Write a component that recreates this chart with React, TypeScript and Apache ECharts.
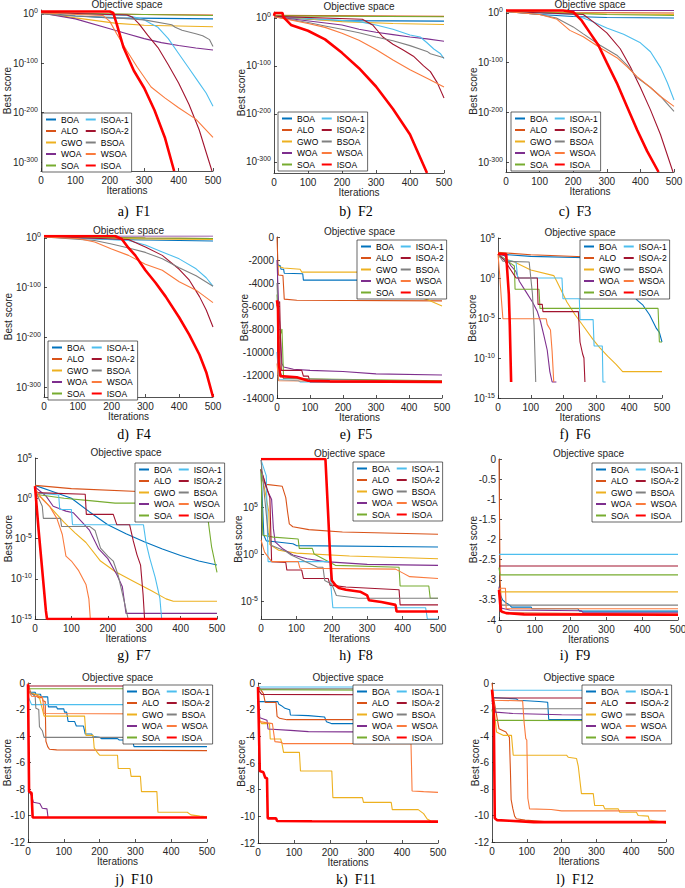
import React, { useEffect, useRef } from "react";
import * as echarts from "echarts";

const seriesNames = ["BOA", "ALO", "GWO", "WOA", "SOA", "ISOA-1", "ISOA-2", "BSOA", "WSOA", "ISOA"];
const seriesColors = ["#0072BD", "#D95319", "#EDB120", "#7E2F8E", "#77AC30", "#4DBEEE", "#A2142F", "#808080", "#FA7B3E", "#FF0000"];
const seriesWidths = [1.1, 1.1, 1.1, 1.1, 1.1, 1.1, 1.1, 1.1, 1.1, 2.6];

const xTicks = [0, 100, 200, 300, 400, 500];
const ticksLog300 = [0, -100, -200, -300];
const ticksF5 = [0, -2000, -4000, -6000, -8000, -10000, -12000, -14000];
const ticksLog15 = [5, 0, -5, -10, -15];
const ticksF8 = [5, 0, -5];
const ticksF9 = [0, -0.5, -1, -1.5, -2, -2.5, -3, -3.5, -4];
const ticks12 = [0, -2, -4, -6, -8, -10, -12];

// Log-scale panels store log10(best score); order follows seriesNames
const F1 = [
  [[0, 3], [100, -4], [200, -8], [500, -10]],
  [[0, 3], [150, 0], [300, -1], [500, -2]],
  [[0, 2], [100, -8], [220, -19], [300, -23], [500, -26]],
  [[0, 2], [100, -10], [200, -30], [250, -40], [300, -50], [350, -58], [400, -64], [450, -69], [500, -73]],
  [[0, 3], [300, -1], [500, -3]],
  [[0, 2], [250, -3], [280, -8], [300, -12], [320, -20], [340, -27], [370, -50], [400, -80], [430, -110], [460, -140], [480, -160], [500, -187]],
  [[0, 3], [250, -2], [265, -6], [285, -20], [310, -43], [340, -68], [370, -103], [400, -140], [430, -183], [460, -235], [480, -280], [497, -318]],
  [[0, 0], [100, -4], [200, -7], [300, -12], [380, -22], [390, -27], [410, -33], [450, -40], [470, -44], [490, -52], [500, -66]],
  [[0, 2], [180, -3], [200, -15], [220, -40], [250, -75], [280, -108], [320, -148], [360, -170], [400, -190], [450, -213], [500, -250]],
  [[0, 5], [200, 5], [210, 2], [220, -20], [240, -68], [270, -115], [300, -150], [330, -195], [360, -250], [387, -318]],
];
const F2 = [
  [[0, 2], [100, -3], [200, -6], [500, -7]],
  [[0, 5], [500, 3]],
  [[0, 3], [200, -8], [350, -12], [500, -14]],
  [[0, 2], [200, -15], [250, -24], [300, -30], [350, -35], [400, -40], [450, -44], [500, -49]],
  [[0, 4], [500, 2]],
  [[0, 3], [250, -8], [300, -15], [350, -24], [400, -36], [430, -40], [450, -52], [470, -65], [490, -75], [500, -85]],
  [[0, 3], [260, -3], [290, -15], [320, -40], [350, -55], [380, -67], [410, -80], [440, -100], [460, -112], [480, -135], [500, -167]],
  [[0, 2], [100, -10], [150, -17], [200, -24], [250, -31], [300, -40], [350, -48], [400, -58], [450, -70], [460, -75], [500, -83]],
  [[0, 2], [100, -12], [150, -20], [200, -32], [250, -47], [300, -66], [350, -88], [400, -108], [450, -126], [500, -144]],
  [[0, 4], [2, 10], [25, 10], [27, 2], [50, -15], [100, -27], [150, -45], [200, -73], [250, -105], [300, -143], [350, -190], [400, -243], [450, -323]],
];
const F3 = [
  [[0, 3], [100, -3], [200, -7], [300, -9], [500, -10]],
  [[0, 3], [200, 1], [500, 0]],
  [[0, 3], [300, -2], [500, -3]],
  [[0, 5], [500, 5]],
  [[0, 3], [300, -3], [500, -5]],
  [[0, 3], [200, -3], [250, -15], [300, -30], [350, -43], [400, -60], [430, -78], [460, -110], [480, -140], [500, -175]],
  [[0, 3], [230, -3], [260, -18], [300, -40], [340, -72], [370, -108], [400, -150], [430, -195], [460, -245], [497, -320]],
  [[0, 3], [100, -3], [150, -10], [200, -28], [230, -42], [280, -65], [330, -85], [360, -105], [390, -130], [430, -150], [460, -168], [500, -198]],
  [[0, 3], [100, -3], [150, -12], [190, -35], [230, -48], [280, -70], [330, -90], [360, -108], [390, -128], [430, -150], [460, -168], [500, -188]],
  [[0, 5], [170, 5], [200, 2], [225, -15], [250, -40], [275, -65], [300, -100], [330, -141], [360, -188], [390, -235], [420, -278], [454, -320]],
];
const F4 = [
  [[0, 2], [200, -3], [500, -6]],
  [[0, 3], [100, 2], [300, 0], [500, -1]],
  [[0, 3], [300, -2], [500, -3]],
  [[0, 4], [500, 4]],
  [[0, 3], [300, 0], [500, -1]],
  [[0, 3], [250, -5], [300, -14], [350, -28], [400, -42], [450, -62], [480, -80], [500, -97]],
  [[0, 3], [250, -3], [300, -18], [350, -35], [400, -63], [430, -85], [460, -118], [480, -145], [500, -179]],
  [[0, 2], [150, -5], [200, -12], [250, -20], [300, -29], [350, -42], [400, -60], [450, -76], [500, -97]],
  [[0, 2], [100, -1], [150, -8], [200, -22], [250, -35], [300, -53], [350, -65], [400, -88], [450, -105], [500, -130]],
  [[0, 4], [210, 4], [230, -2], [250, -20], [270, -35], [300, -65], [330, -90], [360, -118], [400, -160], [430, -195], [460, -235], [480, -270], [500, -320]],
];
const F5 = [
  [[0, -2400], [10, -2500], [12, -2800], [20, -2800], [22, -3150], [78, -3200], [80, -3750], [500, -3750]],
  [[0, 0], [4, -3300], [18, -3350], [22, -5400], [60, -5500], [500, -5550]],
  [[0, -2500], [10, -2600], [20, -2700], [70, -2800], [75, -3050], [350, -3050], [365, -4000], [380, -4700], [420, -5100], [460, -5500], [500, -6000]],
  [[0, -2000], [5, -6000], [15, -11000], [20, -11300], [50, -11500], [100, -11600], [200, -11700], [300, -11900], [500, -12000]],
  [[0, -5000], [5, -9000], [15, -8000], [20, -12300], [500, -12500]],
  [[0, -10000], [5, -12400], [65, -12500], [70, -12600], [500, -12600]],
  [[0, -6000], [8, -5600], [13, -11600], [75, -11600], [80, -12100], [95, -12100], [100, -12600], [500, -12600]],
  [[0, -4000], [10, -11800], [20, -12300], [500, -12600]],
  [[0, -11000], [5, -12500], [500, -12600]],
  [[0, -5500], [3, -6200], [5, -10900], [10, -12100], [60, -12200], [95, -12500], [160, -12550], [500, -12600]],
];
const F6 = [
  [[0, 3], [100, 2.7], [300, 2.5], [380, 2.3], [395, 0], [411, -2.1], [425, -2.8], [442, -3.4], [462, -4.6], [483, -6.3], [492, -6.8], [500, -8]],
  [[0, 3.2], [100, 2.9], [300, 2.6], [500, 2.3]],
  [[0, 2.7], [50, 2], [100, 1], [170, 0.3], [178, -0.3], [190, -1.3], [210, -3], [235, -4.6], [260, -6], [290, -7.7], [310, -8.7], [335, -9.8], [360, -10.8], [380, -11.7], [500, -11.7]],
  [[0, 3], [20, 2.8], [40, 1.5], [55, 0.8], [65, -0.4], [85, -1.7], [105, -3], [120, -4.2], [130, -5.5], [140, -7.2], [150, -9], [158, -11.7], [165, -13], [178, -13]],
  [[0, 3], [40, 1.8], [50, 1.5], [52, -1.4], [125, -1.4], [128, -3.8], [488, -3.8], [492, -8], [500, -8]],
  [[0, 3], [20, 2.3], [55, 2], [60, 0], [195, 0], [198, -2.6], [248, -2.6], [250, -5.2], [290, -5.2], [293, -8.5], [318, -8.5], [320, -13], [328, -13]],
  [[0, 3], [20, 2.2], [55, 0], [120, 0], [122, -3.3], [135, -3.3], [137, -4.2], [245, -4.2], [250, -8], [258, -9.5], [262, -10], [265, -13]],
  [[0, 3], [15, 2.1], [95, 2], [100, 0], [105, -2], [110, -6], [115, -13]],
  [[0, 3], [5, 0.5], [10, -2.5], [15, -5.1], [147, -5.1], [150, -5.8], [160, -6.5], [165, -9.2], [170, -13]],
  [[0, 3], [25, 3], [28, 1], [33, -2], [36, -6], [40, -13]],
];
const F7 = [
  [[0, 1.6], [50, 0.8], [100, 0], [150, -1.7], [200, -3.3], [250, -4.4], [300, -5.4], [350, -6.3], [400, -7.1], [450, -7.8], [500, -8.3]],
  [[0, 1.6], [100, 1.2], [300, 0.8], [500, 0.4]],
  [[0, 0.5], [20, 0], [50, -1.5], [80, -3], [110, -4.3], [140, -5.5], [180, -7.8], [220, -9.1], [270, -10.3], [320, -11.5], [360, -12.5], [380, -12.8], [500, -12.8]],
  [[0, 1.4], [30, 0.3], [50, -1], [85, -1.6], [105, -1.8], [130, -3], [150, -4], [175, -6.3], [200, -7.5], [225, -9.5], [240, -11], [250, -14.3], [500, -14.3]],
  [[0, 0.5], [80, 0], [150, -0.3], [220, -0.6], [470, -0.6], [475, -2.5], [485, -6], [492, -7.5], [500, -9.2]],
  [[0, 0.7], [65, 0.4], [68, -1.4], [100, -1.4], [103, -3.3], [298, -3.3], [305, -5.5], [315, -7.4], [330, -9.8], [343, -12.4], [348, -15]],
  [[0, 0.7], [138, 0.5], [141, -2], [215, -2], [225, -3.3], [260, -3.3], [270, -5.3], [280, -7], [290, -8.3], [297, -12], [301, -15]],
  [[0, 1], [20, -1], [23, -2.5], [70, -2.5], [73, -3.5], [150, -3.5], [165, -4], [180, -6.2], [200, -7.2], [215, -7.8], [228, -9.5], [243, -12.4], [256, -15]],
  [[0, 1.2], [20, -0.1], [40, -1], [60, -2.5], [75, -4.5], [85, -7.2], [100, -7.8], [120, -9], [140, -10.7], [148, -12.5], [152, -15]],
  [[0, 1.5], [10, -4], [20, -9], [30, -14], [33, -15], [500, -15]],
];
const F8 = [
  [[0, 9], [8, 2], [15, 1.4], [40, 1.3], [90, 1.1], [100, 0.9], [500, 0.75]],
  [[0, 9], [5, 7.8], [15, 7.4], [60, 7.2], [70, 6], [75, 4.5], [80, 3.2], [90, 2.9], [135, 2.6], [230, 2.35], [500, 2.1]],
  [[0, 9], [22, 4.5], [25, 1], [50, 0.4], [100, 0.1], [250, -0.2], [500, -0.5]],
  [[0, 9], [15, 7], [30, 5.8], [35, 2.7], [40, 1.3], [60, 0.6], [90, -0.1], [130, -0.5], [180, -0.8], [300, -1.1], [500, -1.2]],
  [[0, 9], [5, 2], [35, 1.8], [105, 1.6], [108, 0.6], [145, 0.6], [150, 0], [210, -1.2], [390, -1.4], [393, -3.4], [474, -3.4], [478, -4.7], [500, -4.7]],
  [[0, 10], [15, 8.3], [20, -0.8], [195, -0.8], [198, -3.6], [203, -5.7], [465, -5.7], [470, -6.9], [500, -6.9]],
  [[0, 9], [25, 6], [30, -0.8], [70, -0.9], [73, -1.7], [115, -1.7], [120, -2.6], [190, -2.6], [195, -3.3], [240, -3.5], [390, -3.8], [393, -5.4], [500, -5.4]],
  [[0, 10], [20, 2.3], [30, 0.9], [70, 0.3], [85, -0.1], [160, -1.4], [175, -1.4], [180, -2.8], [200, -3.2], [213, -4.4], [275, -4.7], [500, -4.7]],
  [[0, 1.5], [10, 0.2], [30, -0.8], [105, -0.8], [110, -1.5], [380, -1.6], [400, -2.0], [420, -2.4], [500, -2.6]],
  [[0, 10.1], [182, 10.1], [190, 4], [195, 0], [200, -2.8], [210, -3.3], [220, -3.6], [240, -3.8], [280, -4.0], [300, -4.4], [305, -4.9], [340, -5.1], [380, -5.4], [383, -6.1], [500, -6.1]],
];
const F9 = [
  [[0, -3.3], [10, -3.5], [20, -3.58], [30, -3.63], [35, -3.68], [90, -3.68], [92, -3.72], [220, -3.72], [225, -3.78], [500, -3.78]],
  [[0, 0], [3, -3.0], [8, -3.82], [500, -3.86]],
  [[0, -3.2], [3, -3.3], [500, -3.3]],
  [[0, -3.17], [5, -3.7], [30, -3.75], [230, -3.77], [235, -3.82], [500, -3.82]],
  [[0, -2.7], [3, -2.88], [500, -2.88]],
  [[0, -2.37], [500, -2.37]],
  [[0, -2.66], [500, -2.66]],
  [[0, -3.3], [8, -3.63], [500, -3.63]],
  [[0, -3.3], [2, -3.21], [18, -3.21], [20, -3.72], [500, -3.72]],
  [[0, -3.25], [5, -3.78], [20, -3.83], [70, -3.86], [500, -3.87]],
];
const F10 = [
  [[0, -0.7], [20, -0.7], [22, -0.85], [35, -0.85], [37, -1.05], [55, -1.05], [57, -1.8], [80, -1.8], [82, -1.95], [100, -1.95], [102, -2.2], [108, -2.2], [112, -2.9], [130, -2.9], [135, -3.25], [155, -3.25], [160, -3.85], [178, -3.85], [182, -4.05], [200, -4.1], [205, -4.2], [250, -4.2], [255, -4.3], [292, -4.3], [296, -4.8], [500, -4.8]],
  [[0, 0], [8, -0.8], [25, -0.9], [28, -1.1], [40, -1.1], [42, -1.35], [48, -1.4], [50, -4.4], [55, -4.8], [60, -5.0], [80, -5.05], [500, -5.1]],
  [[0, -0.7], [30, -0.9], [45, -2.5], [158, -2.5], [162, -3.95], [182, -3.95], [185, -4.9], [195, -5.3], [200, -5.45], [250, -5.45], [252, -6.45], [285, -6.45], [288, -7.05], [314, -7.05], [317, -8.2], [360, -8.2], [363, -9.75], [445, -9.75], [455, -9.95], [480, -10.05], [500, -10.1]],
  [[0, -0.5], [3, -8.2], [10, -8.5], [15, -9], [33, -9.1], [40, -9.45], [53, -9.5], [56, -10.15], [500, -10.15]],
  [[0, -0.43], [500, -0.43]],
  [[0, -1.0], [10, -1.63], [500, -1.63]],
  [[0, -0.23], [500, -0.23]],
  [[0, -0.6], [20, -1], [22, -1.9], [30, -2], [32, -3.3], [40, -3.6], [45, -4.1], [500, -4.1]],
  [[0, -0.5], [10, -1.0], [40, -1.05], [42, -1.4], [45, -2.3], [500, -2.35]],
  [[0, -0.1], [3, -8.2], [10, -8.3], [13, -10.15], [500, -10.15]],
];
const F11 = [
  [[0, -1.4], [55, -1.4], [58, -1.6], [65, -1.7], [75, -1.9], [88, -2.0], [90, -2.4], [140, -2.45], [185, -2.55], [190, -2.9], [200, -3.0], [205, -3.05], [480, -3.05], [485, -4.2], [500, -4.3]],
  [[0, -0.2], [15, -0.8], [20, -1.45], [50, -1.45], [53, -2.5], [60, -2.65], [80, -2.75], [500, -2.75]],
  [[0, -1.5], [5, -2.8], [10, -3.05], [32, -3.05], [34, -4.2], [63, -4.2], [67, -4.6], [71, -5.2], [115, -5.2], [118, -6.6], [205, -6.6], [208, -8.6], [290, -8.6], [293, -8.95], [370, -8.95], [373, -9.5], [445, -9.5], [460, -9.8], [470, -10.2], [480, -10.35], [500, -10.4]],
  [[0, -0.5], [5, -2.6], [25, -2.8], [28, -3.45], [90, -3.55], [140, -3.65], [500, -3.7]],
  [[0, -0.5], [500, -0.55]],
  [[0, -0.3], [500, -0.3]],
  [[0, -0.5], [10, -0.85], [500, -0.9]],
  [[0, -0.43], [500, -0.43]],
  [[0, -1.4], [5, -2.9], [40, -3.05], [47, -4.4], [65, -4.45], [70, -4.55], [425, -4.55], [428, -8.1], [460, -8.15], [500, -8.2]],
  [[0, -0.3], [5, -6.6], [15, -6.7], [20, -7.1], [25, -7.15], [27, -10.15], [50, -10.15], [53, -10.35], [150, -10.37], [500, -10.4]],
];
const F12 = [
  [[0, -1.1], [70, -1.2], [75, -1.3], [135, -1.4], [160, -1.45], [163, -2.75], [480, -2.75], [490, -3.5], [500, -3.57]],
  [[0, 0], [5, -1.2], [20, -3.45], [40, -3.7], [50, -4.1], [53, -6.7], [55, -8.8], [60, -9.5], [65, -10.05], [70, -10.25], [95, -10.35], [150, -10.45], [500, -10.5]],
  [[0, -0.5], [13, -3.7], [20, -3.8], [32, -3.95], [56, -3.95], [61, -5.45], [214, -5.45], [219, -5.6], [243, -5.7], [248, -6.3], [257, -8.35], [291, -8.35], [295, -9.25], [320, -9.25], [324, -9.5], [363, -9.5], [367, -9.75], [415, -9.75], [420, -10], [449, -10.05], [452, -10.35], [480, -10.45], [500, -10.6]],
  [[0, -1.3], [10, -2.2], [60, -2.3], [200, -2.4], [500, -2.45]],
  [[0, -2], [5, -2.82], [500, -2.85]],
  [[0, -0.55], [500, -0.55]],
  [[0, -1.13], [500, -1.13]],
  [[0, -1.5], [5, -1.94], [500, -1.94]],
  [[0, -0.8], [5, -1.3], [88, -1.35], [92, -2.9], [97, -4.2], [100, -4.3], [103, -8.7], [108, -9.5], [170, -9.55], [200, -9.65], [500, -9.65]],
  [[0, -0.5], [5, -2], [8, -10.2], [15, -10.35], [50, -10.4], [120, -10.5], [500, -10.5]],
];

const FONT = "'Liberation Sans', Arial, Helvetica, sans-serif";
const SERIF = "'Liberation Serif', 'Times New Roman', serif";
const INK = "#262626";

type Panel = {
  data: number[][][];
  caption: string;
  log: boolean;
  min: number;
  max: number;
  ticks: number[];
  left: number;
  top: number;
  width: number;
  height: number;
  nameGap: number;
  legendLeft: number;
  legendTop: number;
  capX: number;
  capY: number;
};

const panels: Panel[] = [
  { data: F1, caption: "a)  F1", log: true, min: -318, max: 8, ticks: ticksLog300, left: 41, top: 10, width: 172, height: 161, nameGap: 29, legendLeft: 42, legendTop: 113, capX: 134, capY: 211 },
  { data: F2, caption: "b)  F2", log: true, min: -323, max: 12, ticks: ticksLog300, left: 274, top: 12, width: 170, height: 161, nameGap: 28, legendLeft: 278, legendTop: 112, capX: 356, capY: 211 },
  { data: F3, caption: "c)  F3", log: true, min: -320, max: 6, ticks: ticksLog300, left: 506, top: 10, width: 168, height: 162, nameGap: 28, legendLeft: 511, legendTop: 112, capX: 575, capY: 211 },
  { data: F4, caption: "d)  F4", log: true, min: -320, max: 4, ticks: ticksLog300, left: 44, top: 236, width: 169, height: 161, nameGap: 31, legendLeft: 48, legendTop: 341, capX: 134, capY: 434 },
  { data: F5, caption: "e)  F5", log: false, min: -14000, max: 0, ticks: ticksF5, left: 277, top: 237, width: 165, height: 161, nameGap: 28, legendLeft: 357, legendTop: 240, capX: 356, capY: 434 },
  { data: F6, caption: "f)  F6", log: true, min: -15, max: 5, ticks: ticksLog15, left: 498, top: 238, width: 164, height: 160, nameGap: 21, legendLeft: 580, legendTop: 240, capX: 575, capY: 434 },
  { data: F7, caption: "g)  F7", log: true, min: -15, max: 5, ticks: ticksLog15, left: 35, top: 458, width: 182, height: 161, nameGap: 22, legendLeft: 135, legendTop: 463, capX: 134, capY: 655 },
  { data: F8, caption: "h)  F8", log: true, min: -6.9, max: 10.1, ticks: ticksF8, left: 261, top: 459, width: 177, height: 160, nameGap: 18, legendLeft: 353, legendTop: 462, capX: 356, capY: 655 },
  { data: F9, caption: "i)  F9", log: false, min: -4, max: 0, ticks: ticksF9, left: 499, top: 459, width: 179, height: 161, nameGap: 21, legendLeft: 592, legendTop: 463, capX: 575, capY: 655 },
  { data: F10, caption: "j)  F10", log: false, min: -12, max: 0, ticks: ticks12, left: 28, top: 683, width: 179, height: 159, nameGap: 16, legendLeft: 123, legendTop: 685, capX: 134, capY: 879 },
  { data: F11, caption: "k)  F11", log: false, min: -12, max: 0, ticks: ticks12, left: 258, top: 683, width: 180, height: 160, nameGap: 12, legendLeft: 353, legendTop: 685, capX: 356, capY: 879 },
  { data: F12, caption: "l)  F12", log: false, min: -12, max: 0, ticks: ticks12, left: 492, top: 683, width: 174, height: 159, nameGap: 12, legendLeft: 582, legendTop: 685, capX: 575, capY: 879 },
];

const expRich = {
  b: { fontSize: 10, color: INK, fontFamily: FONT, lineHeight: 12 },
  s: { fontSize: 7, color: INK, fontFamily: FONT, lineHeight: 8, padding: [0, 0, 6, 0] },
};

function buildOption() {
  const grid: any[] = [];
  const xAxis: any[] = [];
  const yAxis: any[] = [];
  const legend: any[] = [];
  const series: any[] = [];
  const graphic: any[] = [];

  panels.forEach((p, i) => {
    grid.push({ left: p.left, top: p.top, width: p.width, height: p.height, containLabel: false, outerBoundsMode: "none" });
    xAxis.push({
      type: "value",
      gridIndex: i,
      min: 0,
      max: 500,
      interval: 100,
      name: "Iterations",
      nameLocation: "middle",
      nameGap: 14,
      nameMoveOverlap: false,
      nameTextStyle: { fontSize: 10, color: INK, fontFamily: FONT, lineHeight: 10 },
      axisLine: { show: true, onZero: false, lineStyle: { color: INK, width: 0.8 } },
      axisTick: { show: true, inside: true, length: 3, customValues: xTicks, lineStyle: { color: INK, width: 0.8 } },
      axisLabel: { fontSize: 10, color: INK, fontFamily: FONT, margin: 4, lineHeight: 10, customValues: xTicks },
      splitLine: { show: false },
    });
    yAxis.push({
      type: "value",
      gridIndex: i,
      min: p.min,
      max: p.max,
      name: "Best score",
      nameLocation: "middle",
      nameGap: p.nameGap,
      nameMoveOverlap: false,
      nameTextStyle: { fontSize: 10, color: INK, fontFamily: FONT, lineHeight: 10 },
      axisLine: { show: true, onZero: false, lineStyle: { color: INK, width: 0.8 } },
      axisTick: { show: true, inside: true, length: 3, customValues: p.ticks, lineStyle: { color: INK, width: 0.8 } },
      axisLabel: p.log
        ? { customValues: p.ticks, margin: 3, formatter: (v: number) => `{b|10}{s|${v}}`, rich: expRich }
        : { customValues: p.ticks, margin: 3, fontSize: 10, color: INK, fontFamily: FONT, formatter: (v: number) => String(v) },
      splitLine: { show: false },
    });
    legend.push({
      orient: "vertical",
      left: p.legendLeft,
      top: p.legendTop,
      height: 55,
      itemWidth: 10,
      itemHeight: 8,
      itemGap: 2.5,
      padding: [2, 3, 2, 3],
      borderColor: INK,
      borderWidth: 0.7,
      backgroundColor: "#ffffff",
      selectedMode: false,
      itemStyle: { opacity: 0 },
      textStyle: { fontSize: 8.5, color: "#000", fontFamily: FONT },
      data: seriesNames,
    });
    p.data.forEach((pts, j) => {
      series.push({
        type: "line",
        name: seriesNames[j],
        xAxisIndex: i,
        yAxisIndex: i,
        data: pts,
        symbol: "none",
        showSymbol: false,
        silent: true,
        clip: true,
        z: j === 9 ? 3 : 2,
        lineStyle: { color: seriesColors[j], width: seriesWidths[j] },
        itemStyle: { color: seriesColors[j] },
      });
    });
    graphic.push({
      type: "text",
      x: p.left + p.width / 2,
      y: p.top - 6,
      style: { text: "Objective space", fontSize: 10, fontFamily: FONT, fill: INK, align: "center", verticalAlign: "middle" },
    });
    graphic.push({
      type: "text",
      x: p.capX,
      y: p.capY,
      style: { text: p.caption, fontSize: 14, fontFamily: SERIF, fill: "#000", align: "center", verticalAlign: "middle" },
    });
  });

  return {
    animation: false,
    backgroundColor: "#ffffff",
    textStyle: { fontFamily: FONT },
    grid,
    xAxis,
    yAxis,
    legend,
    series,
    graphic,
  };
}

export default function App() {
  const ref = useRef<HTMLDivElement>(null);
  useEffect(() => {
    if (!ref.current) return;
    const chart = echarts.init(ref.current, undefined, { renderer: "svg" });
    chart.setOption(buildOption() as any);
    return () => chart.dispose();
  }, []);
  return <div ref={ref} style={{ position: "absolute", left: 0, top: 0, width: 685, height: 888 }} />;
}
